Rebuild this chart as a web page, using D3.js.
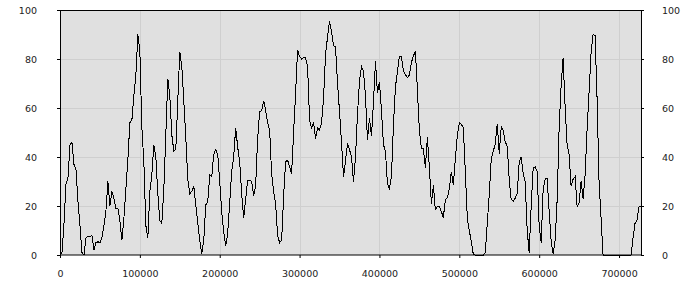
<!DOCTYPE html>
<meta charset="utf-8">
<html>
<head>
<script src="https://d3js.org/d3.v7.min.js"></script>
<style>
body { margin: 0; background: #fff; }
.tick text { font: 9.5px "DejaVu Sans", sans-serif; fill: #222; }
.tick line { stroke: #000; }
.grid line { stroke: #cfcfcf; }
</style>
</head>
<body>
<div id="chart"></div>
<script>
// sampled every 2500 units along x, starting at 0
var xStart = 0,
    xStep = 2500;

var values = [
  0, 1, 13, 29, 31.5, 45, 46, 37, 35, 22, 12, 1, 0, 7, 7.5, 7.5, 8, 2, 5, 5.4,
  5, 7, 12, 18, 30, 20, 26, 23, 19, 19, 14, 6, 15, 27, 39, 54, 55, 65, 73.5, 90,
  83, 52, 38, 12, 7, 26, 32.6, 45, 40, 25, 14, 13, 27, 49, 72, 65, 49, 42.5, 43, 63,
  83, 77, 63, 48, 31, 25, 26, 28, 20.6, 13.2, 6, 0.5, 6, 20.5, 21.6, 32.6, 32, 41, 43, 41,
  30, 17.7, 9.5, 3.5, 9, 21.5, 34, 40, 52, 44, 38, 25, 15, 23, 30.6, 30.6, 30, 24, 28.6, 47.6,
  58.5, 59, 63, 59, 54, 51, 33, 26, 21, 8, 5, 6, 24, 38, 38.7, 36, 33, 50, 66, 83.7,
  81, 80, 80.5, 80.5, 77, 55, 52, 54, 47.5, 52, 51, 54, 64, 82, 89, 95.5, 91, 85.5, 85, 70,
  58.5, 46, 32, 38.5, 45.5, 43, 40, 30, 40, 57.5, 71, 77, 75, 65, 47, 55.7, 48.5, 62, 79, 66.3,
  70.6, 59, 45, 42.4, 29, 27, 32, 53, 68.6, 74.7, 81.2, 81.2, 75, 73.6, 72.5, 73.4, 78.6, 81.2, 83.2, 67.5,
  51, 43.4, 43.3, 35.7, 48, 36, 21, 28.4, 18.5, 19.7, 19.7, 17.8, 15.3, 22.5, 23.4, 27, 34, 28.6, 39.3, 48.7,
  54, 53.3, 52, 34, 15, 10, 5.5, 0.3, 0, 0, 0, 0, 0, 1, 13, 24.5, 39.4, 42.3, 45.4, 53.5,
  41.4, 52.3, 50.8, 46.2, 44.4, 30.6, 22.6, 22, 23.2, 25, 37.8, 40, 33.3, 29.8, 10, 1, 20, 35.5, 36, 34,
  11.5, 5, 27, 31, 31.3, 17.7, 5.6, 0.5, 6, 22.5, 52, 69, 80.5, 60.5, 44.8, 41, 28.1, 31, 32, 19.8,
  21.4, 30.2, 23, 32.6, 51.4, 66.6, 82.5, 90, 89.5, 64, 29.6, 15, 0, 0, 0, 0, 0, 0, 0, 0,
  0, 0, 0, 0, 0, 0, 0, 6.8, 12.9, 14.3, 19.7, 20
];

var xMax = 727500;
var yTicks = [0, 20, 40, 60, 80, 100];

var margin = { top: 10, right: 59, bottom: 45, left: 60 },
    width = 700 - margin.left - margin.right,
    height = 300 - margin.top - margin.bottom;

var svg = d3.select("#chart")
    .append("svg")
    .attr("width", 700)
    .attr("height", 300)
    .append("g")
    .attr("transform", "translate(" + margin.left + "," + margin.top + ")");

var x = d3.scaleLinear().domain([0, xMax]).range([0, width]);
var y = d3.scaleLinear().domain([0, 100]).range([height, 0]);

// plot background
svg.append("rect")
    .attr("width", width)
    .attr("height", height)
    .attr("fill", "#e0e0e0");

// grid
svg.append("g")
    .attr("class", "grid")
    .selectAll("line")
    .data(x.ticks(10).filter(function (d) { return d > 0; }))
    .enter().append("line")
    .attr("x1", function (d) { return Math.round(x(d)) + 0.5; })
    .attr("x2", function (d) { return Math.round(x(d)) + 0.5; })
    .attr("y1", 0)
    .attr("y2", height);

svg.append("g")
    .attr("class", "grid")
    .selectAll("line")
    .data(yTicks.filter(function (d) { return d > 0 && d < 100; }))
    .enter().append("line")
    .attr("x1", 0)
    .attr("x2", width)
    .attr("y1", function (d) { return Math.round(y(d)) + 0.5; })
    .attr("y2", function (d) { return Math.round(y(d)) + 0.5; });

// the series
var line = d3.line()
    .x(function (d, i) { return x(xStart + i * xStep); })
    .y(function (d) { return y(d); });

svg.append("path")
    .datum(values)
    .attr("fill", "none")
    .attr("stroke", "#000")
    .attr("stroke-width", 1)
    .attr("shape-rendering", "crispEdges")
    .attr("d", line);

// frame
svg.append("rect")
    .attr("x", 0.5)
    .attr("y", 0.5)
    .attr("width", width)
    .attr("height", height - 0.5)
    .attr("fill", "none")
    .attr("stroke", "#000");

// axes
svg.append("g")
    .attr("transform", "translate(0," + height + ")")
    .call(d3.axisBottom(x).ticks(10).tickFormat(d3.format("d"))
        .tickSize(3).tickPadding(12).tickSizeOuter(0))
    .call(function (g) { g.select(".domain").remove(); });

svg.append("g")
    .call(d3.axisLeft(y).tickValues(yTicks).tickSize(3).tickPadding(20).tickSizeOuter(0))
    .call(function (g) { g.select(".domain").remove(); });

svg.append("g")
    .attr("transform", "translate(" + width + ",0)")
    .call(d3.axisRight(y).tickValues(yTicks).tickSize(3).tickPadding(18).tickSizeOuter(0))
    .call(function (g) { g.select(".domain").remove(); });
</script>
</body>
</html>
